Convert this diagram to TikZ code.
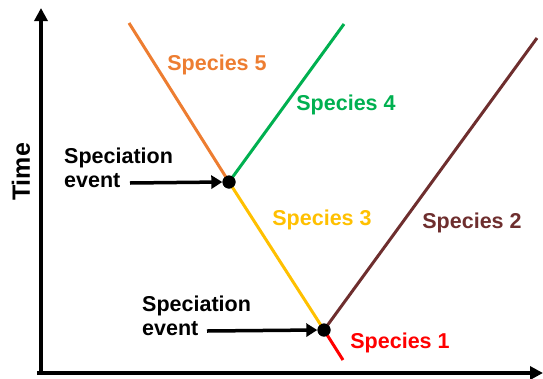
\documentclass[tikz,border=0pt]{standalone}
\usepackage{fontspec}
\setmainfont{Liberation Sans}
\usetikzlibrary{arrows.meta}
\definecolor{sporange}{HTML}{ED7D31}
\definecolor{spgreen}{HTML}{00B050}
\definecolor{spyellow}{HTML}{FFC000}
\definecolor{spbrown}{HTML}{6E2E2E}
\definecolor{spred}{HTML}{FF0000}
\tikzset{
  axisline/.style={line width=3.5pt, -{Triangle[length=13pt,width=13pt]}},
  branch/.style={line width=3pt},
  evtarrow/.style={line width=3.5pt, -{Triangle[length=11pt,width=13pt]}},
  evtdot/.style={circle, fill=black, inner sep=0pt, minimum size=13pt},
  splabel/.style={font=\fontsize{21.5}{25}\selectfont\bfseries, inner sep=0pt},
  evtlabel/.style={font=\fontsize{21.5}{24.5}\selectfont\bfseries, inner sep=0pt, align=left, anchor=west}
}
\begin{document}
\begin{tikzpicture}[x=1pt,y=-1pt]
\useasboundingbox (0,0) rectangle (543,378);
% axes
\coordinate (origin) at (41,373);
\coordinate (ytop) at (41,8);
\coordinate (xleft) at (37,373);
\coordinate (xright) at (543,373);
\draw[axisline] (origin) -- (ytop);
\draw[axisline] (xleft) -- (xright);
\node[splabel, font=\fontsize{25}{30}\selectfont\bfseries, rotate=90] (time) at (21,172) {Time};
% speciation dots
\node[evtdot] (d1) at (229,182) {};
\node[evtdot] (d2) at (324,330) {};
% branch ends
\coordinate (e5) at (129,23);
\coordinate (e4) at (344,24);
\coordinate (e2) at (537,38);
\coordinate (e1) at (343,360);
\draw[branch, sporange] (d1.center) -- (e5);
\draw[branch, spgreen] (d1.center) -- (e4);
\draw[branch, spyellow] (d1.center) -- (d2.center);
\draw[branch, spbrown] (d2.center) -- (e2);
\draw[branch, spred] (d2.center) -- (e1);
\node[evtdot] at (d1) {};
\node[evtdot] at (d2) {};
% species labels
\node[splabel, text=sporange] (s5) at (217,65) {Species 5};
\node[splabel, text=spgreen] (s4) at (346,105) {Species 4};
\node[splabel, text=spyellow] (s3) at (322,220) {Species 3};
\node[splabel, text=spbrown] (s2) at (472,223) {Species 2};
\node[splabel, text=spred] (s1) at (400,343) {Species 1};
% event labels
\node[evtlabel] (ev1) at (64,168) {Speciation\\event};
\node[evtlabel] (ev2) at (142,316) {Speciation\\event};
\coordinate (a1) at (130,183);
\coordinate (a2) at (207,331);
\draw[evtarrow] (a1) -- (d1.west);
\draw[evtarrow] (a2) -- (d2.west);
\end{tikzpicture}
\end{document}
